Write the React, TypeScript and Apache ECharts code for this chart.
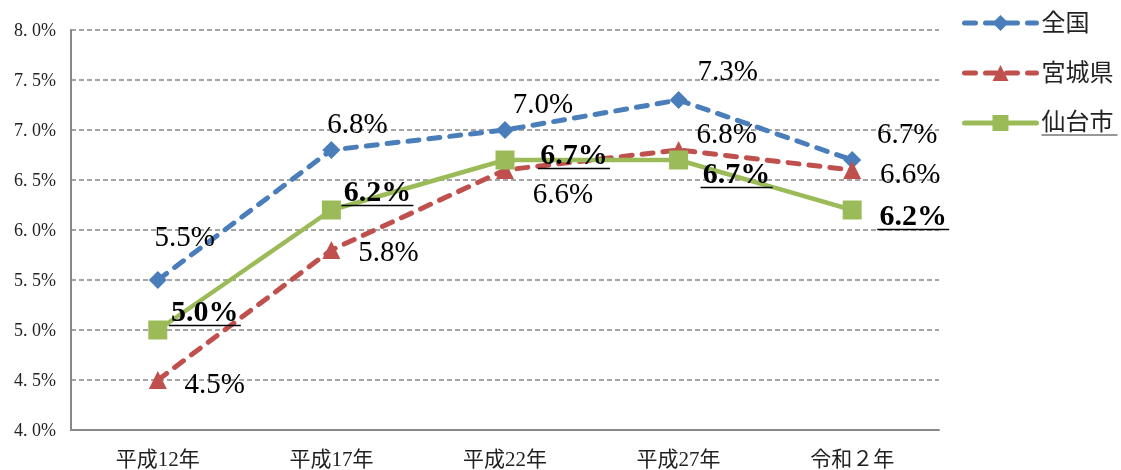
import React, { useEffect, useRef } from "react";
import * as echarts from "echarts";

const categories = ["平成12年", "平成17年", "平成22年", "平成27年", "令和２年"];
const zenkoku = [5.5, 6.8, 7.0, 7.3, 6.7];
const miyagi = [4.5, 5.8, 6.6, 6.8, 6.6];
const sendai = [5.0, 6.2, 6.7, 6.7, 6.2];

const FONT = "'Liberation Serif', 'DejaVu Serif', 'Noto Sans CJK JP', serif";
const BLUE = "#4A7EBB";
const RED = "#C0504D";
const GREEN = "#9BBB59";

export default function App() {
  const ref = useRef<HTMLDivElement>(null);
  useEffect(() => {
    if (!ref.current) return;
    const chart = echarts.init(ref.current, null, { renderer: "svg" });
    const sendaiOffsets = [
      [47, -21],
      [46, -21],
      [69, -8],
      [58, 11],
      [61, 3],
    ];
    const zenOffsets = [
      [27, -44],
      [26, -27],
      [38, -27],
      [49, -30],
      [55, -27],
    ];
    const miyOffsets = [
      [57, 3],
      [57, 1],
      [58, 23],
      [48, -17],
      [58, 3],
    ];
    const plainLabel = (off: number[]) => ({
      show: true,
      position: "inside",
      offset: off,
      fontFamily: FONT,
      fontSize: 29,
      color: "#000",
      formatter: (p: any) => p.value.toFixed(1) + "%",
    });
    const boldLabel = (off: number[]) => ({
      show: true,
      position: "inside",
      offset: [off[0], off[1] + 3],
      formatter: (p: any) => "{a|" + p.value.toFixed(1) + "%}\n{u|}",
      rich: {
        a: {
          fontFamily: FONT,
          fontSize: 30,
          fontWeight: "bold",
          color: "#000",
          lineHeight: 27,
        },
        u: {
          width: 72,
          height: 1.5,
          backgroundColor: "#000",
          lineHeight: 4,
        },
      },
    });
    chart.setOption({
      animation: false,
      grid: { left: 71, right: 182, top: 30, bottom: 40 },
      legend: {
        orient: "vertical",
        left: 957,
        top: 5,
        itemWidth: 72,
        itemHeight: 20,
        itemGap: 24,
        lineStyle: { width: 5 },
        textStyle: {
          fontFamily: FONT,
          fontSize: 24,
          color: "#222",
          lineHeight: 26,
          rich: {
            s: {
              fontFamily: FONT,
              fontSize: 24,
              color: "#222",
              lineHeight: 24,
            },
            u: { width: 76, height: 1.2, backgroundColor: "#333", lineHeight: 2 },
          },
        },
        formatter: (name: string) =>
          name === "仙台市" ? "{s|" + name + "}\n{u|}" : name,
        data: ["全国", "宮城県", "仙台市"],
      },
      xAxis: {
        type: "category",
        data: categories,
        boundaryGap: true,
        axisLine: { lineStyle: { color: "#888", width: 2 } },
        axisTick: { show: false },
        axisLabel: {
          fontFamily: FONT,
          fontSize: 21,
          color: "#222",
          margin: 18,
        },
        splitLine: { show: false },
      },
      yAxis: {
        type: "value",
        min: 4.0,
        max: 8.0,
        interval: 0.5,
        axisLine: { show: true, lineStyle: { color: "#888", width: 2 } },
        axisTick: { show: false },
        axisLabel: {
          fontFamily: FONT,
          fontSize: 18,
          color: "#222",
          margin: 15,
          formatter: (v: number) => v.toFixed(1).replace(".", ". ") + "%",
        },
        splitLine: {
          show: true,
          lineStyle: { color: "#888", type: [5, 3], width: 1.5 },
        },
      },
      series: [
        {
          name: "全国",
          type: "line",
          data: zenkoku.map((v, i) => ({ value: v, label: plainLabel(zenOffsets[i]) })),
          symbol: "diamond",
          symbolSize: 18,
          itemStyle: { color: BLUE },
          lineStyle: { color: BLUE, width: 5, type: [11, 10], cap: "round" },
          z: 3,
        },
        {
          name: "宮城県",
          type: "line",
          data: miyagi.map((v, i) => ({ value: v, label: plainLabel(miyOffsets[i]) })),
          symbol: "triangle",
          symbolSize: 18,
          itemStyle: { color: RED },
          lineStyle: { color: RED, width: 5, type: [11, 10], cap: "round" },
          z: 3,
        },
        {
          name: "仙台市",
          type: "line",
          data: sendai.map((v, i) => ({ value: v, label: boldLabel(sendaiOffsets[i]) })),
          symbol: "rect",
          symbolSize: 19,
          itemStyle: { color: GREEN },
          lineStyle: { color: GREEN, width: 4.5, cap: "round" },
          z: 4,
        },
      ],
    });
    return () => chart.dispose();
  }, []);
  return (
    <div
      ref={ref}
      style={{ position: "fixed", left: 0, top: 0, width: 1121, height: 470 }}
    />
  );
}
